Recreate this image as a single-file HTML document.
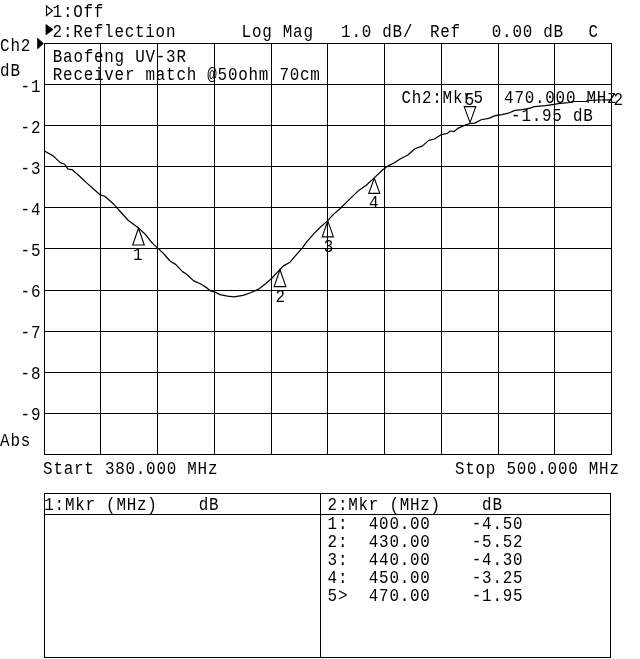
<!DOCTYPE html>
<html lang="en"><head><meta charset="utf-8"><title>Network analyzer plot - Baofeng UV-3R receiver match</title>
<style>html,body{margin:0;padding:0;background:#fff}body{width:640px;height:659px;overflow:hidden}svg{display:block}text{font-family:"Liberation Mono","DejaVu Sans Mono",monospace;fill:#000;white-space:pre}.g{stroke:#000;stroke-width:1;shape-rendering:crispEdges;fill:none}.t{stroke:#000;stroke-width:1.25;fill:none;stroke-linejoin:round;stroke-linecap:round}.m{stroke:#000;stroke-width:1.1;fill:none;stroke-linejoin:miter}</style></head><body>
<svg width="640" height="659" viewBox="0 0 640 659">
<rect x="0" y="0" width="640" height="659" fill="#fff"/>
<path class="g" d="M44.5 43V455M100.5 43V455M157.5 43V455M214.5 43V455M271.5 43V455M327.5 43V455M384.5 43V455M441.5 43V455M498.5 43V455M554.5 43V455M611.5 43V455M44 43.5H612M44 84.5H612M44 125.5H612M44 166.5H612M44 207.5H612M44 248.5H612M44 290.5H612M44 331.5H612M44 372.5H612M44 413.5H612M44 454.5H612"/>
<path class="g" d="M44.5 493V658M320.5 493V658M610.5 493V658M44 493.5H611M44 514.5H611M44 657.5H611"/>
<polyline class="t" points="44.5,151 53.1,155.9 60.6,162.9 64.4,164 68.1,169.1 71.9,169.6 79.4,176 86.9,183.1 94.4,189.7 100,194.75 104.7,196.25 112.2,202.8 115,205.6 122.5,214 128.1,220.25 137.5,227.2 140.3,229.6 145,234 152.5,243.4 157.75,248.1 163.75,253.75 170.3,261.25 175.9,264.6 182.5,271.6 186.25,274 193.75,280.9 200.3,283.75 206.9,287.9 210.6,290.9 214.4,291.8 220,294.6 227.5,296.1 234,296.9 243.1,295.4 250.6,292.75 258.1,289.4 265.6,283.75 271.6,278.5 279.7,269.7 283.4,265.9 290,262.2 294.7,256.6 302.2,248.1 306.9,241.6 314.4,233.1 320,227.5 327.5,220.9 333.4,214.4 340,208.75 349.4,199.4 358.75,190.4 366.25,185.3 373.75,178.4 382.2,170.3 388.75,165.6 394.4,162.8 400.9,158.5 407.5,155.3 415,148.75 422.5,145.9 428.75,140.4 434.4,139 441,134.75 447.5,133.4 450.3,131 454,131.6 457.8,128.4 464.4,125.4 470,123.5 474.7,123.1 481.25,119.75 488.75,118.4 495.3,115.6 501.9,114.7 509.4,112.8 515,110.4 522.5,109.6 530,108.1 534.4,106.6 545.6,105.7 552.5,104.6 560,103.4 566,102.8 570,102.5 574.5,101.5 586,101.3 589.5,100.3 600,100 611.5,99.8"/>
<path class="m" d="M138.5 228.2L132.7 245H144.3Z"/>
<path class="m" d="M280 269.8L274.1 286.6H285.9Z"/>
<path class="m" d="M327.8 220.8L322.2 236.9H333.4Z"/>
<path class="m" d="M374.3 178.2L368.8 193.4H379.8Z"/>
<path class="m" d="M470 122.6L464.2 106.6H475.8Z"/>
<path class="m" d="M46.5 6V15.5L52.5 10.7Z"/>
<path d="M46 24.5V34.8L53 29.6Z" fill="#000" stroke="#000" stroke-width="0.8"/>
<path d="M37.6 38.2V48.8L43.4 43.5Z" fill="#000" stroke="#000" stroke-width="0.8"/>
<text transform="translate(52.6 17) scale(0.86 1)" font-size="18.5" letter-spacing="0.877" xml:space="preserve">1:Off</text>
<text transform="translate(52.6 36.9) scale(0.86 1)" font-size="18.5" letter-spacing="0.877" xml:space="preserve">2:Reflection</text>
<text transform="translate(241.6 36.9) scale(0.86 1)" font-size="18.5" letter-spacing="0.877" xml:space="preserve">Log Mag</text>
<text transform="translate(341.1 36.9) scale(0.86 1)" font-size="18.5" letter-spacing="0.877" xml:space="preserve">1.0 dB/</text>
<text transform="translate(429.9 36.9) scale(0.86 1)" font-size="18.5" letter-spacing="0.877" xml:space="preserve">Ref</text>
<text transform="translate(491.8 36.9) scale(0.86 1)" font-size="18.5" letter-spacing="0.877" xml:space="preserve">0.00 dB</text>
<text transform="translate(588.6 36.9) scale(0.86 1)" font-size="18.5" letter-spacing="0.877" xml:space="preserve">C</text>
<text transform="translate(0.1 50.9) scale(0.86 1)" font-size="18.5" letter-spacing="0.877" xml:space="preserve">Ch2</text>
<text transform="translate(0.1 76) scale(0.86 1)" font-size="18.5" letter-spacing="0.877" xml:space="preserve">dB</text>
<text transform="translate(20.6 92) scale(0.86 1)" font-size="18.5" letter-spacing="0.877" xml:space="preserve">-1</text>
<text transform="translate(20.6 133) scale(0.86 1)" font-size="18.5" letter-spacing="0.877" xml:space="preserve">-2</text>
<text transform="translate(20.6 174) scale(0.86 1)" font-size="18.5" letter-spacing="0.877" xml:space="preserve">-3</text>
<text transform="translate(20.6 215) scale(0.86 1)" font-size="18.5" letter-spacing="0.877" xml:space="preserve">-4</text>
<text transform="translate(20.6 256) scale(0.86 1)" font-size="18.5" letter-spacing="0.877" xml:space="preserve">-5</text>
<text transform="translate(20.6 297) scale(0.86 1)" font-size="18.5" letter-spacing="0.877" xml:space="preserve">-6</text>
<text transform="translate(20.6 338) scale(0.86 1)" font-size="18.5" letter-spacing="0.877" xml:space="preserve">-7</text>
<text transform="translate(20.6 379) scale(0.86 1)" font-size="18.5" letter-spacing="0.877" xml:space="preserve">-8</text>
<text transform="translate(20.6 420) scale(0.86 1)" font-size="18.5" letter-spacing="0.877" xml:space="preserve">-9</text>
<text transform="translate(0.1 445.8) scale(0.86 1)" font-size="18.5" letter-spacing="0.877" xml:space="preserve">Abs</text>
<text transform="translate(52.8 62) scale(0.86 1)" font-size="18.5" letter-spacing="0.877" xml:space="preserve">Baofeng UV-3R</text>
<text transform="translate(52.8 80) scale(0.86 1)" font-size="18.5" letter-spacing="0.877" xml:space="preserve">Receiver match @50ohm 70cm</text>
<text transform="translate(401.4 103.3) scale(0.86 1)" font-size="18.5" letter-spacing="0.877" xml:space="preserve">Ch2:Mkr5</text>
<text transform="translate(504.1 103.3) scale(0.86 1)" font-size="18.5" letter-spacing="0.877" xml:space="preserve">470.000 MHz</text>
<text transform="translate(511.1 120.9) scale(0.86 1)" font-size="18.5" letter-spacing="0.877" xml:space="preserve">-1.95 dB</text>
<text transform="translate(613.4 105) scale(0.86 1)" font-size="18.5" letter-spacing="0.877" xml:space="preserve">2</text>
<text transform="translate(133.1 260) scale(0.86 1)" font-size="18.5" letter-spacing="0.877" xml:space="preserve">1</text>
<text transform="translate(275.5 302) scale(0.86 1)" font-size="18.5" letter-spacing="0.877" xml:space="preserve">2</text>
<text transform="translate(323.8 252) scale(0.86 1)" font-size="18.5" letter-spacing="0.877" xml:space="preserve">3</text>
<text transform="translate(369.1 207.8) scale(0.86 1)" font-size="18.5" letter-spacing="0.877" xml:space="preserve">4</text>
<text transform="translate(464.8 105.2) scale(0.86 1)" font-size="18.5" letter-spacing="0.877" xml:space="preserve">5</text>
<text transform="translate(43.1 474) scale(0.86 1)" font-size="18.5" letter-spacing="0.877" xml:space="preserve">Start 380.000 MHz</text>
<text transform="translate(454.9 474) scale(0.86 1)" font-size="18.5" letter-spacing="0.877" xml:space="preserve">Stop 500.000 MHz</text>
<text transform="translate(44.3 510) scale(0.86 1)" font-size="18.5" letter-spacing="0.877" xml:space="preserve">1:Mkr (MHz)    dB</text>
<text transform="translate(327.6 510) scale(0.86 1)" font-size="18.5" letter-spacing="0.877" xml:space="preserve">2:Mkr (MHz)    dB</text>
<text transform="translate(327.6 528.8) scale(0.86 1)" font-size="18.5" letter-spacing="0.877" xml:space="preserve">1:  400.00    -4.50</text>
<text transform="translate(327.6 546.9) scale(0.86 1)" font-size="18.5" letter-spacing="0.877" xml:space="preserve">2:  430.00    -5.52</text>
<text transform="translate(327.6 565) scale(0.86 1)" font-size="18.5" letter-spacing="0.877" xml:space="preserve">3:  440.00    -4.30</text>
<text transform="translate(327.6 583.1) scale(0.86 1)" font-size="18.5" letter-spacing="0.877" xml:space="preserve">4:  450.00    -3.25</text>
<text transform="translate(327.6 601.2) scale(0.86 1)" font-size="18.5" letter-spacing="0.877" xml:space="preserve">5&gt;  470.00    -1.95</text>
</svg></body></html>
